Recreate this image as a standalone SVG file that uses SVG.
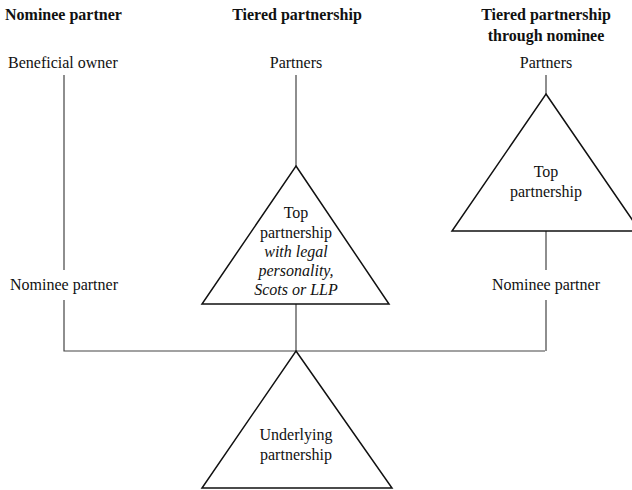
<svg xmlns="http://www.w3.org/2000/svg" width="632" height="490" viewBox="0 0 632 490">
<style>
text{font-family:"Liberation Serif","Times New Roman",serif;font-size:16px;fill:#111}
.h{font-weight:bold}
.m{text-anchor:middle}
.i{font-style:italic}
.tri{fill:#fff;stroke:#111;stroke-width:1.5}
.ln{fill:none;stroke:#444;stroke-width:1.2}
</style>
<rect width="632" height="490" fill="#fff"/>
<g id="headers">
<text class="h" x="5" y="20">Nominee partner</text>
<text class="h m" x="297" y="20">Tiered partnership</text>
<text class="h m" x="546" y="20">Tiered partnership</text>
<text class="h m" x="546" y="41">through nominee</text>
</g>
<g id="connectors">
<path class="ln" d="M64 75V270M64 300V351H545M296 75V166M296 304V351M546 75V94M546 231V270M546 300V351"/>
</g>
<g id="beneficial-owner"><text x="8" y="68">Beneficial owner</text></g>
<g id="nominee-left"><text x="10" y="290">Nominee partner</text></g>
<g id="partners-mid"><text class="m" x="296" y="68">Partners</text></g>
<g id="top-mid">
<polygon class="tri" points="296,166 389,304 202,304"/>
<text class="m" x="296" y="218">Top</text>
<text class="m" x="296" y="238">partnership</text>
<text class="m i" x="296" y="257">with legal</text>
<text class="m i" x="296" y="276">personality,</text>
<text class="m i" x="296" y="295">Scots or LLP</text>
</g>
<g id="partners-right"><text class="m" x="546" y="68">Partners</text></g>
<g id="top-right">
<polygon class="tri" points="546,94 640,231 452,231"/>
<text class="m" x="546" y="177">Top</text>
<text class="m" x="546" y="197">partnership</text>
</g>
<g id="nominee-right"><text class="m" x="546" y="290">Nominee partner</text></g>
<g id="underlying">
<polygon class="tri" points="296,351 392,488 202,488"/>
<text class="m" x="296" y="440">Underlying</text>
<text class="m" x="296" y="460">partnership</text>
</g>
</svg>
